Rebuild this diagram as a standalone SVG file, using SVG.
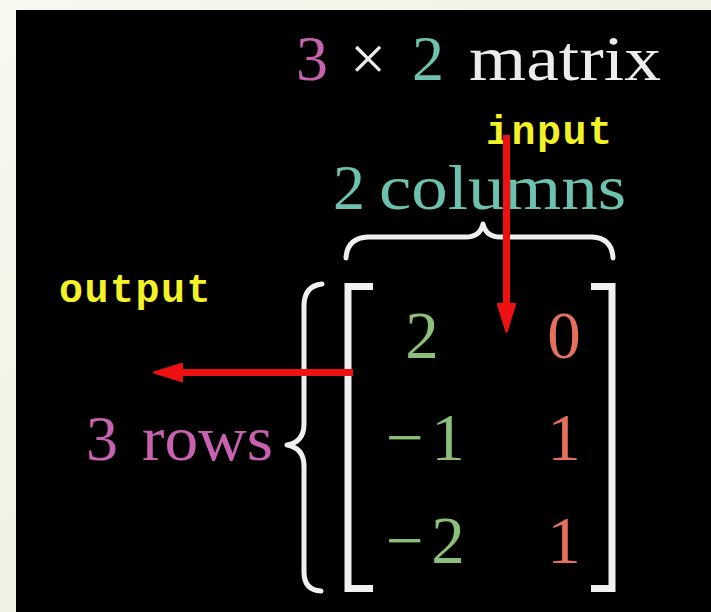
<svg xmlns="http://www.w3.org/2000/svg" width="711" height="612" viewBox="0 0 711 612">
  <defs>
    <linearGradient id="paper" x1="0" y1="0" x2="1" y2="1">
      <stop offset="0" stop-color="#f7f8f0"/>
      <stop offset="1" stop-color="#e6ecd4"/>
    </linearGradient>
    <marker id="head" viewBox="0 -10 30 20" refX="2" refY="0" markerWidth="30" markerHeight="20" markerUnits="userSpaceOnUse" orient="auto">
      <path d="M0,-9 L29,0 L0,9 Z" fill="#ee1111" stroke="#ee1111" stroke-width="2" stroke-linejoin="round"/>
    </marker>
    <style>
      .tex { font-family: "Liberation Serif", "DejaVu Serif", serif; font-size: 64px; }
      .num { font-family: "Liberation Serif", "DejaVu Serif", serif; font-size: 67px; text-anchor: middle; }
      .tag { font-family: "Liberation Mono", "DejaVu Sans Mono", monospace; font-weight: bold; font-size: 40px; letter-spacing: 1.5px; fill: #f2f226; }
      .white { fill: #ececec; }
      .pink { fill: #c862b0; }
      .teal { fill: #6cc2ae; }
      .green { fill: #8cbf7a; }
      .red { fill: #e6705e; }
      .brace { fill: none; stroke: #f0f0f0; stroke-width: 5; stroke-linecap: round; stroke-linejoin: round; }
      .bracket { fill: none; stroke: #f0f0f0; stroke-width: 7; stroke-linejoin: miter; }
      .arrow { fill: none; stroke: #ee1111; stroke-width: 7; marker-end: url(#head); }
    </style>
  </defs>

  <!-- page and dark panel -->
  <rect x="0" y="0" width="711" height="612" fill="url(#paper)"/>
  <rect x="16" y="10" width="695" height="602" fill="#000"/>

  <!-- title -->
  <g id="title">
    <text class="tex" y="80">
      <tspan class="pink" x="296">3</tspan>
      <tspan class="white" x="350">×</tspan>
      <tspan class="teal" x="412">2</tspan>
      <tspan class="white" x="469" textLength="192" lengthAdjust="spacingAndGlyphs">matrix</tspan>
    </text>
  </g>

  <!-- column label and brace -->
  <g id="columns">
    <text class="tex teal" y="209">
      <tspan x="333">2</tspan>
      <tspan x="379" textLength="247" lengthAdjust="spacingAndGlyphs">columns</tspan>
    </text>
    <path class="brace" d="M346,258 Q347,238 368,237 L466,237 Q480,237 483,224 Q486,237 500,237 L592,237 Q612,238 613,258"/>
  </g>

  <!-- row label and brace -->
  <g id="rows">
    <text class="tex pink" y="460">
      <tspan x="86">3</tspan>
      <tspan x="142" textLength="131" lengthAdjust="spacingAndGlyphs">rows</tspan>
    </text>
    <path class="brace" d="M322,284 Q304,286 304,306 L304,424 Q304,442 287,445 Q304,448 304,466 L304,572 Q304,590 321,591"/>
  </g>

  <!-- the matrix -->
  <g id="matrix">
    <path class="bracket" d="M373,286.5 L348,286.5 L348,588.5 L373,588.5"/>
    <path class="bracket" d="M591,286.5 L612,286.5 L612,588.5 L591,588.5"/>
    <text class="num green" x="422" y="358">2</text>
    <text class="num green" y="460"><tspan x="405">−</tspan><tspan x="448">1</tspan></text>
    <text class="num green" y="563"><tspan x="405">−</tspan><tspan x="448">2</tspan></text>
    <text class="num red" x="564" y="358">0</text>
    <text class="num red" x="564" y="460">1</text>
    <text class="num red" x="564" y="563">1</text>
  </g>

  <!-- input / output labels -->
  <g id="input">
    <text class="tag" x="486" y="144">input</text>
  </g>
  <g id="output">
    <text class="tag" x="59" y="302">output</text>
  </g>

  <!-- arrows -->
  <g id="connectors">
    <line class="arrow" x1="506.5" y1="135" x2="506.5" y2="305"/>
    <line class="arrow" x1="353" y1="372.5" x2="181" y2="372.5"/>
  </g>
</svg>
